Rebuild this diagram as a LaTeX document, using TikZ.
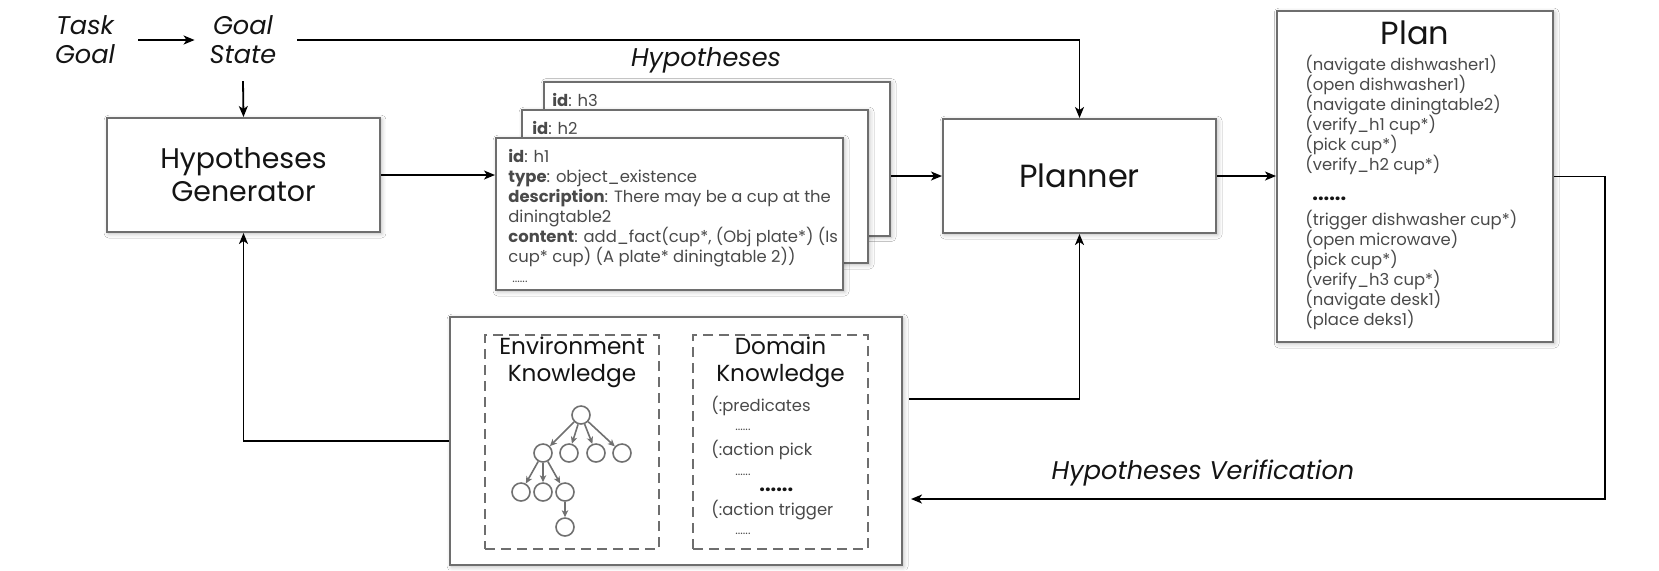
\documentclass[tikz,border=0pt]{standalone}
\usepackage{fontspec}
\setmainfont{Poppins}
\usetikzlibrary{arrows.meta,shadows.blur}
\definecolor{boxgray}{HTML}{6E6E6E}
\definecolor{txtgray}{HTML}{4A4A4A}
\definecolor{titleblk}{HTML}{141414}
\definecolor{treegray}{HTML}{707070}
\begin{document}
\begin{tikzpicture}[x=0.5pt,y=-0.5pt,
  box/.style={draw=boxgray,line width=1pt,fill=white,inner sep=0pt,
    blur shadow={shadow xshift=0.8pt,shadow yshift=-0.8pt,shadow blur steps=4,shadow opacity=30}},
  dbox/.style={draw=boxgray,line width=0.9pt,dash pattern=on 5pt off 3pt,inner sep=0pt},
  arr/.style={draw=black,line width=0.9pt,-{Stealth[length=5.5pt,width=4.5pt,inset=1.5pt]}},
  tarr/.style={draw=treegray,line width=0.8pt,-{Stealth[length=3.5pt,width=3.2pt,inset=1pt]}},
  tc/.style={circle,draw=treegray,line width=0.8pt,minimum size=9pt,inner sep=0pt},
  title/.style={text=titleblk,align=center},
  lab/.style={text=titleblk,font=\fontsize{12.8}{14.5}\selectfont\itshape,align=center},
  body/.style={text=txtgray,font=\fontsize{8.2}{10}\selectfont,anchor=base west,inner sep=0pt},
  dots/.style={text=txtgray,font=\fontsize{6}{7}\selectfont,anchor=base west,inner sep=0pt},
  bdots/.style={text=titleblk,font=\fontsize{10}{11}\selectfont\bfseries,anchor=base west,inner sep=0pt},
]
\useasboundingbox (0,0) rectangle (1659,570);
\fill[white] (0,0) rectangle (1659,570);

% top labels
\node[lab] (task) at (85,40) {Task\\Goal};
\node[lab] (goal) at (243,40) {Goal\\State};

% main boxes
\node[box,title,font=\fontsize{14.2}{16.5}\selectfont,minimum width=136.5pt,minimum height=57pt] (hg) at (243.5,175) {Hypotheses\\Generator};
\node[box,title,font=\fontsize{16}{18}\selectfont,minimum width=136.5pt,minimum height=57pt] (planner) at (1079.5,176) {Planner};

% hypothesis cards
\node[box,minimum width=173pt,minimum height=77pt] (h3) at (717,158.5) {};
\node[box,minimum width=173pt,minimum height=76.5pt] (h2) at (695,186.5) {};
\node[box,minimum width=173.5pt,minimum height=76pt] (h1) at (669.5,214) {};
\node[body] (h3t) at (552,106) {\textbf{id}: h3};
\node[body] (h2t) at (532,134) {\textbf{id}: h2};
\foreach \t/\yy [count=\i] in {{\textbf{id}: h1}/162,{\textbf{type}: object\_existence}/182,{\textbf{description}: There may be a cup at the}/202,{diningtable2}/222,{\textbf{content}: add\_fact(cup*, (Obj plate*) (Is}/242,{cup* cup) (A plate* diningtable 2))}/262}
  \node[body] (h1l\i) at (508,\yy) {\t};
\node[dots] (h1d) at (512,282) {......};
\node[lab] (hyplab) at (706,60) {Hypotheses};

% plan box
\node[box,minimum width=138pt,minimum height=165.5pt] (plan) at (1415,176.5) {};
\node[title,font=\fontsize{16}{18}\selectfont] (plant) at (1415,33) {Plan};
\foreach \t/\yy [count=\i] in {{(navigate dishwasher1)}/70,{(open dishwasher1)}/90,{(navigate diningtable2)}/110,{(verify\_h1 cup*)}/130,{(pick cup*)}/150,{(verify\_h2 cup*)}/170,{(trigger dishwasher cup*)}/225,{(open microwave)}/245,{(pick cup*)}/265,{(verify\_h3 cup*)}/285,{(navigate desk1)}/305,{(place deks1)}/325}
  \node[body] (pl\i) at (1305,\yy) {\t};
\node[bdots] (pld) at (1312,200) {......};

% knowledge box
\node[box,minimum width=226pt,minimum height=124pt] (know) at (676,441) {};
\node[dbox,minimum width=87pt,minimum height=107pt] (env) at (572,442) {};
\node[dbox,minimum width=87.5pt,minimum height=107pt] (dom) at (780.5,442) {};
\node[title,font=\fontsize{11.6}{13.5}\selectfont] (envt) at (572,362) {Environment\\Knowledge};
\node[title,font=\fontsize{11.6}{13.5}\selectfont] (domt) at (780.5,362) {Domain\\Knowledge};
\node[body] (d1) at (711,411) {(:predicates};
\node[dots] (d2) at (735,430) {......};
\node[body] (d3) at (711,455) {(:action pick};
\node[dots] (d4) at (735,475) {......};
\node[bdots] (d5) at (759,491) {......};
\node[body] (d6) at (711,515) {(:action trigger};
\node[dots] (d7) at (735,534) {......};

% tree
\node[tc] (r) at (581,415) {};
\node[tc] (a) at (543,453) {};
\node[tc] (b) at (569,453) {};
\node[tc] (c) at (596,453) {};
\node[tc] (d) at (622,453) {};
\node[tc] (e) at (521,492) {};
\node[tc] (f) at (543,492) {};
\node[tc] (g) at (565,492) {};
\node[tc] (k) at (565,527) {};
\foreach \n in {a,b,c,d} \draw[tarr] (r) -- (\n);
\foreach \n in {e,f,g} \draw[tarr] (a) -- (\n);
\draw[tarr] (g) -- (k);

% connectors
\draw[arr] ([xshift=8pt]task.east) -- ([xshift=-4pt]goal.west);
\draw[arr] ([yshift=-5pt]goal.south) -- (hg.north);
\draw[arr] ([xshift=7pt]goal.east) -| (planner.north);
\draw[arr] (hg.east) -- (hg.east -| h1.west);
\draw[arr] (h3.east |- planner.west) -- (planner.west);
\draw[arr] (planner.east) -- (planner.east -| plan.west);
\coordinate (vr) at (1605,499);
\draw[arr] (plan.east) -| (vr) -- ([xshift=4pt]vr -| know.east);
\draw[arr] ([shift={(6,-42)}]know.east) -| (planner.south);
\draw[arr] (know.west) -| (hg.south);
\node[lab] (verlab) at (1203,473) {Hypotheses Verification};
\end{tikzpicture}
\end{document}
